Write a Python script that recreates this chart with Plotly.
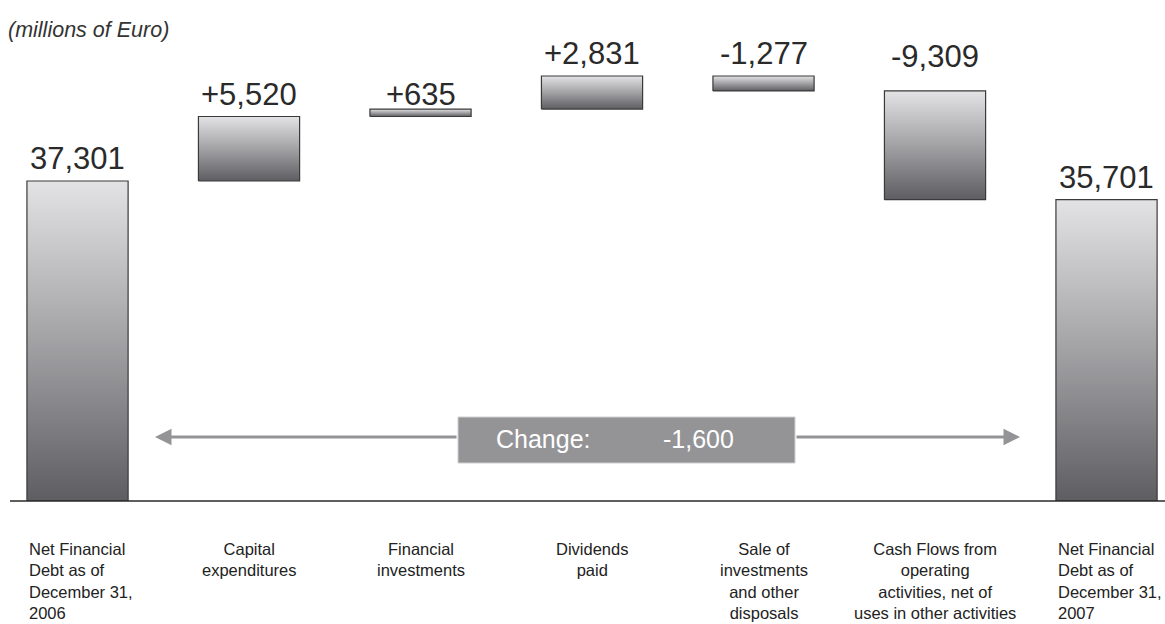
import plotly.graph_objects as go

# ---- data ----
categories = [
    "Net Financial<br>Debt as of<br>December 31,<br>2006",
    "Capital<br>expenditures",
    "Financial<br>investments",
    "Dividends<br>paid",
    "Sale of<br>investments<br>and other<br>disposals",
    "Cash Flows from<br>operating<br>activities, net of<br>uses in other activities",
    "Net Financial<br>Debt as of<br>December 31,<br>2007",
]
start_value = 37301
changes = [5520, 635, 2831, -1277, -9309]
end_value = 35701
unit_note = "(millions of Euro)"

# ---- styles ----
W, H = 1165, 624
BAR_W = 0.59
Y_RANGE = [9915, 52791]
X_RANGE = [-0.452, 6.341]
GRAD = [[0, "#5e5e62"], [0.5, "#a2a2a5"], [1, "#e3e3e5"]]
EDGE = "#3a3a3a"
FONT = "Liberation Sans"
LABEL_SHIFT = [8, 8, 0, 8, 8, 20, 8]  # px gap above bars (style)

# build waterfall geometry from data
bottoms, tops, texts = [], [], []
bottoms.append(Y_RANGE[0]); tops.append(start_value); texts.append(f"{start_value:,}")
level = start_value
for c in changes:
    new = level + c
    bottoms.append(min(level, new)); tops.append(max(level, new))
    texts.append(("+" if c > 0 else "-") + f"{abs(c):,}")
    level = new
bottoms.append(Y_RANGE[0]); tops.append(end_value); texts.append(f"{end_value:,}")
total_change = end_value - start_value

fig = go.Figure()
for i, (b, t) in enumerate(zip(bottoms, tops)):
    x0, x1 = i - BAR_W / 2, i + BAR_W / 2
    fig.add_trace(go.Scatter(
        x=[x0, x1, x1, x0, x0], y=[b, b, t, t, b],
        mode="lines", fill="toself",
        fillgradient=dict(type="vertical", colorscale=GRAD, start=b, stop=t),
        line=dict(color=EDGE, width=1.2),
        hoverinfo="skip", showlegend=False,
    ))

annotations = []
for i, (t, txt) in enumerate(zip(tops, texts)):
    annotations.append(dict(
        x=i, y=t, xref="x", yref="y", text=txt, showarrow=False,
        xanchor="center", yanchor="bottom", yshift=LABEL_SHIFT[i] - 5,
        font=dict(family=FONT, size=31, color="#2a2a2a"),
    ))

n = len(categories)
for i, cat in enumerate(categories):
    edge = i in (0, n - 1)
    annotations.append(dict(
        x=(i - BAR_W / 2) if edge else i, y=0, xref="x", yref="paper",
        text=cat, showarrow=False,
        xanchor="left" if edge else "center", align="left" if edge else "center",
        yanchor="top", yshift=-37,
        font=dict(family=FONT, size=16.5, color="#222222"),
    ))

annotations.append(dict(
    x=6 / W, y=1, xref="paper", yref="paper", yanchor="top", xanchor="left",
    yshift=-16, text=f"<i>{unit_note}</i>", showarrow=False,
    font=dict(family=FONT, size=21.5, color="#333333"),
))

# change arrow + box
ARROW_Y = (501 - 437) / 501
BOX_L, BOX_R = 458, 795
ARR_L, ARR_R = 155, 1020
GREY = "#949497"
annotations.append(dict(
    x=ARR_L / W, y=ARROW_Y, xref="paper", yref="paper", ax=BOX_L - ARR_L, ay=0,
    text="", showarrow=True, arrowhead=2, arrowsize=1.1, arrowwidth=3,
    arrowcolor=GREY, standoff=0,
))
annotations.append(dict(
    x=ARR_R / W, y=ARROW_Y, xref="paper", yref="paper", ax=-(ARR_R - BOX_R), ay=0,
    text="", showarrow=True, arrowhead=2, arrowsize=1.1, arrowwidth=3,
    arrowcolor=GREY, standoff=0,
))
annotations.append(dict(
    x=543 / W, y=ARROW_Y, xref="paper", yref="paper", text="Change:",
    showarrow=False, font=dict(family=FONT, size=25, color="white"),
    xanchor="center", yanchor="middle", yshift=-2,
))
annotations.append(dict(
    x=698 / W, y=ARROW_Y, xref="paper", yref="paper",
    text=("+" if total_change > 0 else "-") + f"{abs(total_change):,}",
    showarrow=False, font=dict(family=FONT, size=25, color="white"),
    xanchor="center", yanchor="middle", yshift=-2,
))

shapes = [
    dict(type="rect", xref="paper", yref="paper",
         x0=BOX_L / W, x1=BOX_R / W, y0=(501 - 463) / 501, y1=(501 - 417) / 501,
         fillcolor=GREY, line=dict(color="#cfcfd1", width=1), layer="above"),
    dict(type="line", xref="paper", yref="paper", x0=10 / W, x1=1, y0=0, y1=0,
         line=dict(color="#2a2a2a", width=1.5), layer="above"),
]

fig.update_layout(
    width=W, height=H, margin=dict(l=0, r=0, t=0, b=123),
    paper_bgcolor="white", plot_bgcolor="white",
    xaxis=dict(range=X_RANGE, visible=False, fixedrange=True),
    yaxis=dict(range=Y_RANGE, visible=False, fixedrange=True),
    annotations=annotations, shapes=shapes, showlegend=False,
)

fig.write_html(
    "out.html",
    config={"displayModeBar": False},
    post_script="document.body.style.margin='0';document.body.style.overflow='hidden';",
)
